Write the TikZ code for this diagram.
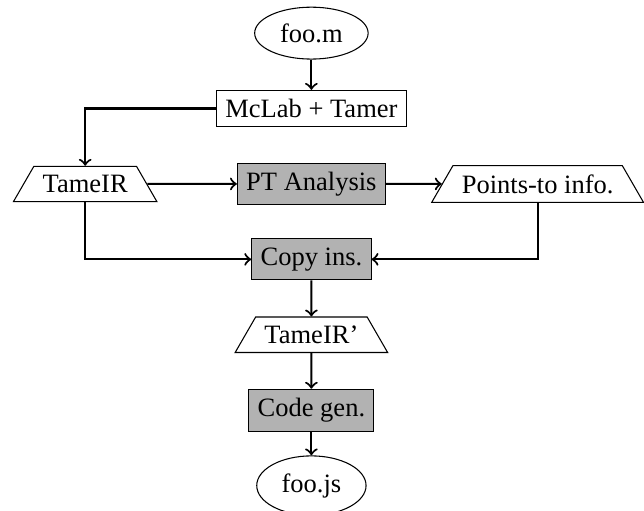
\documentclass[tikz,border=0pt]{standalone}
\usepackage{fontspec}
\setmainfont{Liberation Serif}
\usetikzlibrary{shapes.geometric}
\tikzset{
  filenode/.style={draw, ellipse, line width=0.4pt},
  plainbox/.style={draw, rectangle, line width=0.4pt},
  passbox/.style={draw, rectangle, fill=gray!60, line width=0.4pt},
  irnode/.style={draw, trapezium, trapezium left angle=60, trapezium right angle=60, line width=0.4pt},
  flow/.style={->, thick}
}
\begin{document}
\begin{tikzpicture}
\useasboundingbox (-117.5pt,12.5pt) rectangle (125.5pt,-180pt);
\node[filenode] (foom) at (0,0) {foo.m};
\node[plainbox] (mclab) at (0,-1) {McLab + Tamer};
\node[irnode] (tameir) at (-3,-2) {TameIR};
\node[passbox] (pt) at (0,-2) {PT Analysis};
\node[irnode] (pinfo) at (3,-2) {Points-to info.};
\node[passbox] (copy) at (0,-3) {Copy ins.};
\node[irnode] (tameirp) at (0,-4) {TameIR’};
\node[passbox] (codegen) at (0,-5) {Code gen.};
\node[filenode] (foojs) at (0,-6) {foo.js};
\draw[flow] (foom) -- (mclab);
\draw[flow] (mclab.west) -| (tameir.north);
\draw[flow] (tameir) -- (pt);
\draw[flow] (pt) -- (pinfo);
\draw[flow] (tameir.south) |- (copy.west);
\draw[flow] (pinfo.south) |- (copy.east);
\draw[flow] (copy) -- (tameirp);
\draw[flow] (tameirp) -- (codegen);
\draw[flow] (codegen) -- (foojs);
\end{tikzpicture}
\end{document}
